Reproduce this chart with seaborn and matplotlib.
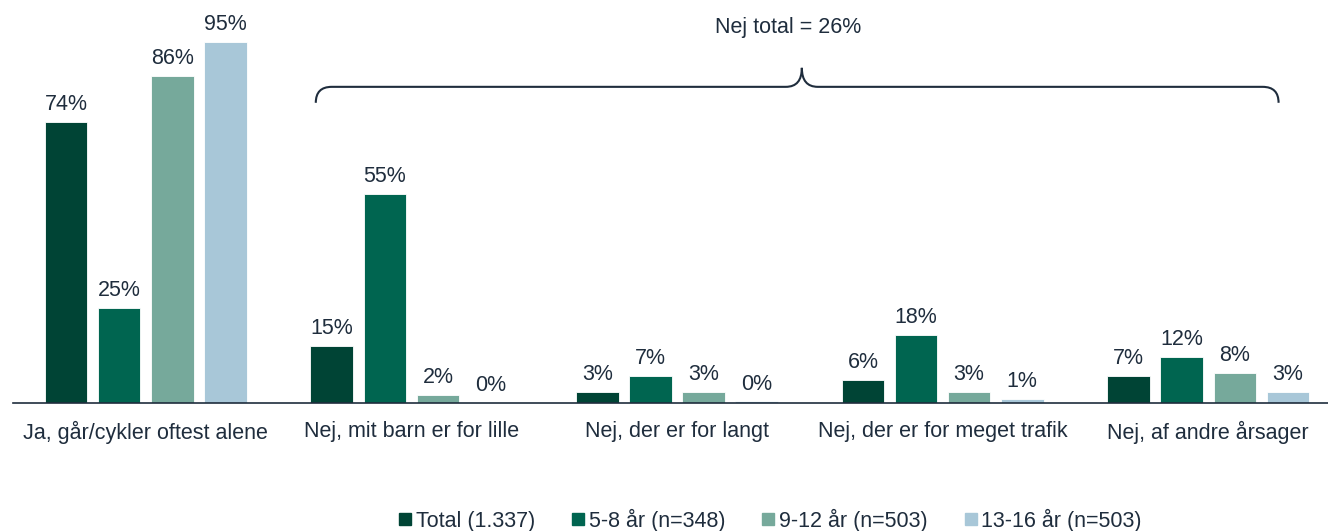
import pandas as pd
import numpy as np
import matplotlib.pyplot as plt
import seaborn as sns
from matplotlib.path import Path
from matplotlib.patches import PathPatch
from matplotlib.lines import Line2D

categories = ['Ja, går/cykler oftest alene', 'Nej, mit barn er for lille',
              'Nej, der er for langt', 'Nej, der er for meget trafik',
              'Nej, af andre årsager']
series = ['Total (1.337)', '5-8 år (n=348)', '9-12 år (n=503)', '13-16 år (n=503)']
total = [74, 15, 3, 6, 7]
age_5_8 = [25, 55, 7, 18, 12]
age_9_12 = [86, 2, 3, 3, 8]
age_13_16 = [95, 0, 0.4, 1, 3]
colors = ['#004435', '#006550', '#76A99B', '#A8C7D8']
brace_label = 'Nej total = 26%'

text_color = '#1F2D3D'

rows = []
for name, vals in zip(series, [total, age_5_8, age_9_12, age_13_16]):
    for cat, v in zip(categories, vals):
        rows.append({'Kategori': cat, 'Gruppe': name, 'Andel': v})
df = pd.DataFrame(rows)

sns.set_style('white')
plt.rcParams['font.family'] = ['Liberation Sans', 'DejaVu Sans']

fig = plt.figure(figsize=(13.28, 5.31), dpi=100)
ax = fig.add_axes([13 / 1328, 128 / 531, 1328 / 1328, 380 / 531])

sns.barplot(data=df, x='Kategori', y='Andel', hue='Gruppe', order=categories,
            hue_order=series, palette=colors, saturation=1, width=0.8, gap=0.2,
            edgecolor='white', linewidth=0.6, legend=False, ax=ax)

# value labels
for container in ax.containers:
    ax.bar_label(container, labels=[f'{v:.0f}%' for v in container.datavalues],
                 padding=5, fontsize=15.5, color=text_color)

ax.set_xlim(-0.5, 4.5)
ax.set_ylim(0, 100)
ax.set_xlabel('')
ax.set_ylabel('')
ax.set_yticks([])
ax.tick_params(axis='x', length=0, pad=13, labelsize=15.5, labelcolor=text_color)
for side in ['top', 'right', 'left']:
    ax.spines[side].set_visible(False)
ax.spines['bottom'].set_color(text_color)
ax.spines['bottom'].set_linewidth(1.2)

# brace over the "Nej" categories
x0, x1, xm = 0.64, 4.265, 2.47
y_end, y_mid, y_top = 79, 83.2, 88.2
r = 0.06
verts = [(x0, y_end), (x0, y_mid), (x0 + r, y_mid),
         (xm - r, y_mid), (xm, y_mid), (xm, y_top),
         (xm, y_mid), (xm + r, y_mid),
         (x1 - r, y_mid), (x1, y_mid), (x1, y_end)]
codes = [Path.MOVETO, Path.CURVE3, Path.CURVE3,
         Path.LINETO, Path.CURVE3, Path.CURVE3,
         Path.CURVE3, Path.CURVE3,
         Path.LINETO, Path.CURVE3, Path.CURVE3]
ax.add_patch(PathPatch(Path(verts, codes), fill=False, edgecolor=text_color,
                       linewidth=1.5, clip_on=False))
ax.text(xm - 0.05, 98.8, brace_label, ha='center', va='center', fontsize=15.5,
        color=text_color, clip_on=False)

handles = [Line2D([], [], marker='s', linestyle='', markersize=8,
                  markerfacecolor=c, markeredgecolor=c) for c in colors]
fig.legend(handles, series, loc='center', bbox_to_anchor=(768 / 1328, 11 / 531),
           ncol=4, frameon=False, fontsize=15.5, labelcolor=text_color,
           handletextpad=0.0, columnspacing=1.5, handlelength=1.0)

plt.savefig('out.png', dpi=100)
plt.close()
